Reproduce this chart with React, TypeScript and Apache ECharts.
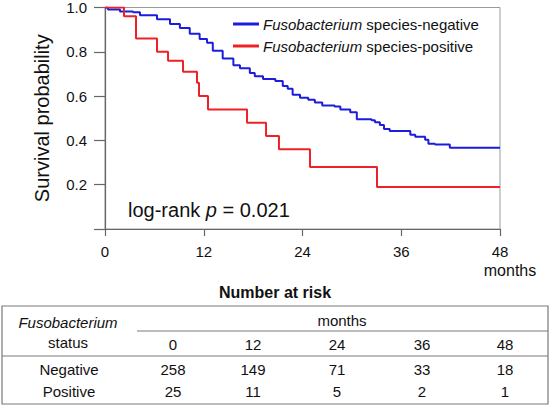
import React, { useEffect, useRef } from "react";
import * as echarts from "echarts";

// Kaplan-Meier curves (months, survival probability)
const negMonths = [0, 0.36, 1.82, 3.4, 4.25, 6.32, 7.9, 9.1, 10.3, 11.5, 12.4, 13.1, 14.3, 15.6, 16.4, 17.6, 18.2, 19.2, 20.7, 21.6, 22.2, 22.8, 23.7, 24.7, 25.5, 26.4, 27.9, 28.6, 29.8, 30.6, 32.4, 32.8, 33.4, 33.9, 34.6, 37.1, 37.7, 38.9, 39.3, 40.1, 41.9, 48];
const negSurv = [1.0, 0.991, 0.982, 0.978, 0.965, 0.947, 0.925, 0.907, 0.881, 0.858, 0.841, 0.805, 0.77, 0.739, 0.726, 0.704, 0.69, 0.677, 0.668, 0.646, 0.633, 0.606, 0.593, 0.584, 0.571, 0.558, 0.553, 0.54, 0.527, 0.496, 0.491, 0.482, 0.469, 0.451, 0.442, 0.425, 0.416, 0.403, 0.385, 0.381, 0.367, 0.367];
const posMonths = [0, 2.31, 3.77, 6.32, 7.66, 9.48, 11.18, 11.42, 12.52, 17.26, 19.57, 21.14, 24.91, 33.05, 48];
const posSurv = [1.0, 0.96, 0.86, 0.8, 0.76, 0.71, 0.66, 0.6, 0.54, 0.48, 0.42, 0.36, 0.28, 0.19, 0.19];

const seriesNames = ["Fusobacterium species-negative", "Fusobacterium species-positive"];
const xTicks = [0, 12, 24, 36, 48];
const riskGroups = ["Negative", "Positive"];
const riskNegative = [258, 149, 71, 33, 18];
const riskPositive = [25, 11, 5, 2, 1];
const pValueText = "0.021";

const FONT = "'Liberation Sans', Arial, Helvetica, sans-serif";
const TXT = "#111";
const BLUE = "#1c1cdc";
const RED = "#ee2226";

export default function App() {
  const ref = useRef<HTMLDivElement>(null);

  useEffect(() => {
    if (!ref.current) return;
    const chart = echarts.init(ref.current, null, { renderer: "svg" });

    const colX = [173, 253, 337, 422, 505];
    const tableLeft = 2;
    const tableRight = 548;
    const lineColor = "#7a7a7a";

    const txt = (x: number, y: number, text: string, extra: any = {}) => ({
      type: "text",
      x,
      y,
      style: {
        text,
        fill: TXT,
        font: `15px ${FONT}`,
        align: "center",
        verticalAlign: "middle",
        ...extra,
      },
    });

    const hline = (x1: number, x2: number, y: number) => ({
      type: "line",
      shape: { x1, y1: y, x2, y2: y },
      style: { stroke: lineColor, lineWidth: 1.2 },
    });

    const graphics: any[] = [
      // months label below axis
      txt(510, 270, "months", { font: `16px ${FONT}` }),
      // log-rank text
      {
        type: "text",
        x: 128,
        y: 210,
        style: {
          text: "{n|log-rank }{i|p}{n| = " + pValueText + "}",
          verticalAlign: "middle",
          align: "left",
          rich: {
            n: { fontSize: 20, fontFamily: FONT, fill: TXT },
            i: { fontSize: 20, fontFamily: FONT, fontStyle: "italic", fill: TXT },
          },
        },
      },
      // table title
      txt(275, 292, "Number at risk", { font: `bold 16px ${FONT}` }),
      // table box
      {
        type: "rect",
        shape: { x: tableLeft, y: 306, width: tableRight - tableLeft, height: 98 },
        style: { fill: "none", stroke: lineColor, lineWidth: 1.2 },
      },
      hline(137, tableRight, 331),
      hline(tableLeft, tableRight, 356),
      txt(68, 322, "Fusobacterium", { font: `italic 15px ${FONT}` }),
      txt(68, 342, "status"),
      txt(342, 320, "months"),
      txt(69, 369, riskGroups[0]),
      txt(69, 391, riskGroups[1]),
    ];
    xTicks.forEach((t, i) => {
      graphics.push(txt(colX[i], 344, String(t)));
      graphics.push(txt(colX[i], 369, String(riskNegative[i])));
      graphics.push(txt(colX[i], 391, String(riskPositive[i])));
    });

    const legendFormatter = (name: string) => {
      const rest = name.replace("Fusobacterium", "");
      return "{i|Fusobacterium}{n|" + rest + "}";
    };

    chart.setOption({
      animation: false,
      textStyle: { fontFamily: FONT },
      grid: {
        left: 105,
        top: 3,
        width: 395,
        height: 226,
        show: true,
        borderColor: "#9a9a9a",
        borderWidth: 1,
      },
      legend: {
        orient: "vertical",
        left: 233,
        top: 16,
        padding: 0,
        itemWidth: 26,
        itemHeight: 3,
        itemGap: 6,
        icon: "rect",
        formatter: legendFormatter,
        textStyle: {
          lineHeight: 16,
          padding: [0, 0, 0, -1],
          rich: {
            i: { fontSize: 15, fontStyle: "italic", fontFamily: FONT, color: TXT, lineHeight: 16 },
            n: { fontSize: 15, fontFamily: FONT, color: TXT, lineHeight: 16 },
          },
        },
        data: seriesNames,
      },
      xAxis: {
        type: "value",
        min: 0,
        max: 48,
        interval: 12,
        axisLine: { show: true, onZero: false, lineStyle: { color: "#666", width: 1.2 } },
        axisTick: { show: true, length: 7, lineStyle: { color: "#666", width: 1.2 } },
        axisLabel: { fontSize: 15, color: TXT, margin: 15, fontFamily: FONT },
        splitLine: { show: false },
      },
      yAxis: {
        type: "value",
        min: 0,
        max: 1,
        interval: 0.2,
        name: "Survival probability",
        nameLocation: "middle",
        nameGap: 53,
        nameTextStyle: { fontSize: 20, color: TXT, fontFamily: FONT },
        axisLine: { show: true, onZero: false, lineStyle: { color: "#666", width: 1.2 } },
        axisTick: { show: true, length: 11, lineStyle: { color: "#666", width: 1.2 } },
        axisLabel: {
          fontSize: 15,
          color: TXT,
          margin: 18,
          fontFamily: FONT,
          formatter: (v: number) => (v === 0 ? "" : v.toFixed(1)),
        },
        splitLine: { show: false },
      },
      series: [
        {
          name: seriesNames[0],
          type: "line",
          step: "end",
          showSymbol: false,
          symbol: "none",
          color: BLUE,
          lineStyle: { color: BLUE, width: 2 },
          data: negMonths.map((m, i) => [m, negSurv[i]]),
        },
        {
          name: seriesNames[1],
          type: "line",
          step: "end",
          showSymbol: false,
          symbol: "none",
          color: RED,
          lineStyle: { color: RED, width: 2 },
          data: posMonths.map((m, i) => [m, posSurv[i]]),
        },
      ],
      graphic: graphics,
    });

    return () => chart.dispose();
  }, []);

  return (
    <div
      ref={ref}
      style={{ position: "absolute", left: 0, top: 0, width: 550, height: 406, background: "#fff" }}
    />
  );
}
